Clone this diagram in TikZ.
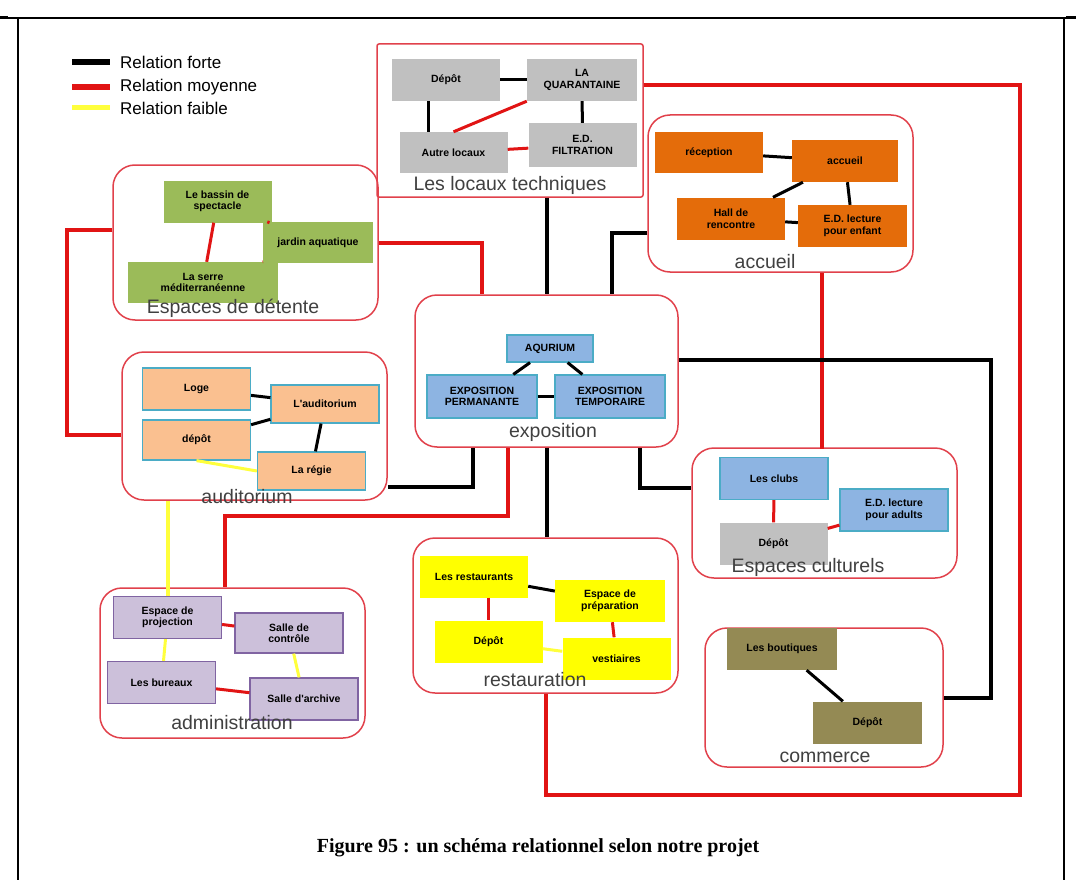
\documentclass[tikz,border=0pt]{standalone}
\usepackage{fontspec}
\usepackage{tikz}
\usetikzlibrary{positioning, fit}
\newfontfamily\arialf{Liberation Sans}
\newfontfamily\timesf{Liberation Serif}
\definecolor{grpred}{RGB}{225,65,75}
\definecolor{linkred}{RGB}{225,20,20}
\definecolor{linkyellow}{RGB}{255,255,60}
\definecolor{boxgrey}{RGB}{192,192,192}
\definecolor{boxorange}{RGB}{228,108,10}
\definecolor{boxgreen}{RGB}{155,187,89}
\definecolor{boxblue}{RGB}{141,180,226}
\definecolor{bluerim}{RGB}{75,172,198}
\definecolor{boxpeach}{RGB}{250,192,144}
\definecolor{boxlilac}{RGB}{204,192,218}
\definecolor{lilacrim}{RGB}{128,100,162}
\definecolor{boxyellow}{RGB}{255,255,0}
\definecolor{boxkhaki}{RGB}{148,138,84}
\definecolor{labelgrey}{RGB}{64,64,64}

\begin{document}
\begin{tikzpicture}[x=1pt, y=-1pt,
      grp/.style={draw=grpred, line width=1.5pt, rounded corners=22pt, inner sep=0pt},
      box/.style={minimum width=108pt, minimum height=42pt, inner sep=1pt, align=center,
                  font=\arialf\bfseries\fontsize{10.5}{11.5}\selectfont},
      greybox/.style={box, fill=boxgrey},
      orangebox/.style={box, fill=boxorange},
      greenbox/.style={box, fill=boxgreen},
      bluebox/.style={box, fill=boxblue, draw=bluerim, line width=1.2pt},
      peachbox/.style={box, fill=boxpeach, draw=bluerim, line width=1.2pt},
      lilacbox/.style={box, fill=boxlilac, draw=lilacrim, line width=1.2pt},
      yellowbox/.style={box, fill=boxyellow},
      khakibox/.style={box, fill=boxkhaki},
      lbl/.style={font=\arialf\fontsize{19.5}{21}\selectfont, text=labelgrey, inner sep=0pt},
      legend/.style={font=\arialf\fontsize{17}{19}\selectfont, inner sep=0pt, anchor=west},
      strong/.style={line width=3pt, black},
      mid/.style={line width=3pt, linkred},
      weak/.style={line width=3pt, linkyellow},
      outer/.style={line width=4pt},
  ]
    \useasboundingbox (0,0) rectangle (1076,880);

    % page frame
    \draw[line width=1.2pt] (0,18) -- (1076,18);
    \draw[line width=3pt] (0,18) -- (8,18) (1066,18) -- (1076,18);
    \draw[line width=1.2pt] (18,18) -- (18,880) (1064,18) -- (1064,880);

    % legend
    \node[legend] (lgforte) at (120,62) {Relation forte};
    \node[legend] (lgmoy) at (120,87) {Relation moyenne};
    \node[legend] (lgfaible) at (120,108) {Relation faible};
    \draw[strong, line width=6pt] ([xshift=-48]lgforte.west) -- ([xshift=-10]lgforte.west);
    \draw[mid, line width=6pt] ([xshift=-48]lgmoy.west) -- ([xshift=-10]lgmoy.west);
    \draw[weak, line width=5pt] ([xshift=-48]lgfaible.west) -- ([xshift=-10]lgfaible.west);

    % groups
    \node[grp, rounded corners=2pt, fit={(377,44) (643,197)}] (loc) {};
    \node[grp, fit={(648,115) (913,272)}] (acc) {};
    \node[grp, fit={(113,165) (378,320)}] (det) {};
    \node[grp, fit={(415,295) (678,447)}] (exp) {};
    \node[grp, fit={(122,352) (387,500)}] (aud) {};
    \node[grp, fit={(100,588) (365,738)}] (adm) {};
    \node[grp, fit={(413,538) (678,693)}] (rest) {};
    \node[grp, fit={(692,448) (957,578)}] (cult) {};
    \node[grp, fit={(705,628) (943,767)}] (com) {};

    % les locaux techniques
    \node[greybox] (tdep) at (446,80) {Dépôt};
    \node[greybox, minimum width=110pt] (tquar) at (582,80) {LA\\QUARANTAINE};
    \node[greybox, minimum height=41pt] (tautre) at (453.5,152.5) {Autre locaux};
    \node[greybox, minimum height=44pt] (tfilt) at (582.5,145) {E.D.\\FILTRATION};
    \node[lbl] (tlbl) at (510,185) {Les locaux techniques};
    \draw[strong] (tdep) -- (tquar);
    \draw[strong] ([xshift=-18]tdep.south) -- ([xshift=-18]tdep.south |- tautre.north);
    \draw[strong] (tquar) -- (tfilt);
    \draw[mid] (tautre.north) -- (tquar.south west);
    \draw[mid] (tautre) -- (tfilt);

    % accueil
    \node[orangebox, minimum height=41pt] (crecep) at (709,152.5) {réception};
    \node[orangebox, minimum width=106pt] (caccueil) at (845,161) {accueil};
    \node[orangebox] (chall) at (731,218.5) {Hall de\\rencontre};
    \node[orangebox, minimum width=109pt] (clect) at (852.5,226) {E.D. lecture\\pour enfant};
    \node[lbl] (clbl) at (765,262) {accueil};
    \draw[strong] (crecep) -- (caccueil);
    \draw[strong] (caccueil) -- (chall);
    \draw[strong] (caccueil) -- (clect);
    \draw[strong] (chall) -- (clect);

    % espaces de detente
    \node[greenbox] (dbassin) at (217.5,201.5) {Le bassin de\\spectacle};
    \node[greenbox, minimum width=110pt, minimum height=41pt] (djardin) at (318,242.5) {jardin aquatique};
    \node[greenbox, minimum width=150pt, minimum height=41pt] (dserre) at (203,282.5) {La serre\\méditerranéenne};
    \node[lbl] (dlbl) at (233,308) {Espaces de détente};
    \draw[mid] (dbassin) -- (djardin);
    \draw[mid] (dbassin) -- (dserre);
    \draw[mid] (djardin) -- (dserre);

    % exposition
    \node[bluebox, minimum width=86pt, minimum height=27pt] (eaqua) at (550,348.5) {AQURIUM};
    \node[bluebox, minimum width=110pt, minimum height=43pt] (eperm) at (482,396.5) {EXPOSITION\\PERMANANTE};
    \node[bluebox, minimum width=110pt, minimum height=43pt] (etemp) at (610,396.5) {EXPOSITION\\TEMPORAIRE};
    \node[lbl] (elbl) at (553,432) {exposition};
    \draw[strong] (eaqua) -- (eperm);
    \draw[strong] (eaqua) -- (etemp);
    \draw[strong] (eperm) -- (etemp);

    % auditorium
    \node[peachbox] (uloge) at (196.5,389) {Loge};
    \node[peachbox, minimum height=40pt] (udepot) at (196.5,440) {dépôt};
    \node[peachbox, minimum height=38pt] (usalle) at (325,404) {L'auditorium};
    \node[peachbox, minimum height=38pt] (uregie) at (311.5,471) {La régie};
    \node[lbl] (ulbl) at (247,497) {auditorium};
    \draw[strong] (uloge) -- (usalle);
    \draw[strong] (udepot) -- (usalle);
    \draw[strong] (usalle) -- (uregie);
    \draw[weak] (udepot.south) -- (uregie.west);

    % administration
    \node[lilacbox] (aproj) at (167.5,617.5) {Espace de\\projection};
    \node[lilacbox, minimum height=40pt] (actrl) at (289,633) {Salle de\\contrôle};
    \node[lilacbox] (abur) at (161.5,682.5) {Les bureaux};
    \node[lilacbox] (aarch) at (304,699) {Salle d'archive};
    \node[lbl] (albl) at (232,723) {administration};
    \draw[mid] (aproj) -- (actrl);
    \draw[weak] (aproj) -- (abur);
    \draw[weak] (actrl) -- (aarch);
    \draw[mid] (abur) -- (aarch);

    % restauration
    \node[yellowbox] (rrest) at (474,576.5) {Les restaurants};
    \node[yellowbox, minimum width=110pt] (rprep) at (610,601) {Espace de\\préparation};
    \node[yellowbox] (rdep) at (488.5,641.5) {Dépôt};
    \node[yellowbox] (rvest) at (616.5,658.5) {vestiaires};
    \node[lbl] (rlbl) at (535,680) {restauration};
    \draw[strong] (rrest) -- (rprep);
    \draw[mid] (rrest.south -| rdep.north) -- (rdep.north);
    \draw[mid] (rprep) -- (rvest);
    \draw[weak] (rdep) -- (rvest);

    % espaces culturels
    \node[bluebox] (kclubs) at (774,478.5) {Les clubs};
    \node[bluebox] (klect) at (894,510) {E.D. lecture\\pour adults};
    \node[greybox] (kdep) at (773.5,543.5) {Dépôt};
    \node[lbl] (klbl) at (808,567) {Espaces culturels};
    \draw[mid] (kclubs) -- (kdep);
    \draw[mid] (kdep) -- (klect);

    % commerce
    \node[khakibox, minimum width=110pt] (mbout) at (782,649) {Les boutiques};
    \node[khakibox, minimum width=109pt] (mdep) at (867.5,722.5) {Dépôt};
    \node[lbl] (mlbl) at (825,757) {commerce};
    \draw[strong] (mbout) -- (mdep);

    % relations between groups
    \coordinate (ne) at (1020,85);
    \coordinate (se) at (1020,795);
    \draw[strong, outer] (loc.south -| exp.north) -- (exp.north);
    \draw[mid, outer] (det.east) -| ([xshift=-64.5]exp.north);
    \draw[strong, outer] ([yshift=-39.5]acc.west) -| ([xshift=65.5]exp.north);
    \draw[mid, outer] ([yshift=12.5]det.west) -- ++(-45,0) |- ([yshift=-9]aud.west);
    \draw[strong, outer] ([yshift=-61]aud.east) -| ([xshift=-73.5]exp.south);
    \draw[mid, outer] ([xshift=-38.5]exp.south) -- ++(0,68) -| ([xshift=-7.5]adm.north);
    \draw[weak, outer] (aud.south -| aproj.north) -- (aproj.north);
    \draw[strong, outer] (exp.south) -- (exp.south |- rest.north);
    \draw[strong, outer] ([xshift=93.5]exp.south) |- ([yshift=25]cult.west);
    \draw[mid, outer] ([xshift=41.5]acc.south) -- ++(0,176);
    \draw[strong, outer] ([yshift=11]exp.east) -- ++(312,0) |- (com.east);
    \draw[mid, outer] ([yshift=35.5]loc.east) -- (ne) -- (se) -| (rest.south);

    \node[font=\timesf\bfseries\fontsize{20}{22}\selectfont] (cap) at (538,848)
      {Figure 95 : un schéma relationnel selon notre projet};
  \end{tikzpicture}
\end{document}
